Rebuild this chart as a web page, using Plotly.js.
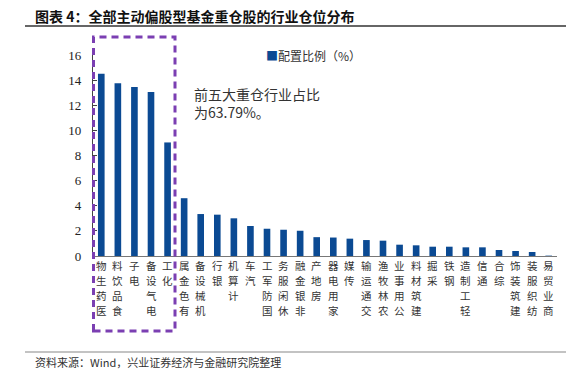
<!DOCTYPE html>
<html>
<head>
<meta charset="utf-8">
<script src="https://cdn.plot.ly/plotly-3.0.1.min.js"></script>
<style>html,body{margin:0;padding:0;background:#fff;}#chart{width:587px;height:373px;}</style>
</head>
<body>
<div id="chart"></div>
<script>
const categories = ['医药生物','食品饮料','电子','电气设备','化工','有色金属','机械设备','银行','计算机','汽车','国防军工','休闲服务','非银金融','房地产','家用电器','传媒','交通运输','农林牧渔','公用事业','建筑材料','采掘','钢铁','轻工制造','通信','综合','建筑装饰','纺织服装','商业贸易'];
const values = [14.50,13.75,13.45,13.05,9.04,4.60,3.34,3.29,3.00,2.39,2.17,2.09,2.01,1.50,1.47,1.38,1.27,1.22,0.90,0.85,0.74,0.74,0.69,0.69,0.48,0.40,0.32,0.03];
const seriesName = '配置比例（%）';
const yTicks = [0,2,4,6,8,10,12,14,16];
const titleText = '图表 4：全部主动偏股型基金重仓股的行业仓位分布';
const noteText = '前五大重仓行业占比<br>为63.79%。';
const sourceText = '资料来源：Wind，兴业证券经济与金融研究院整理';

const cjk = '"Noto Sans CJK SC", "Noto Sans", sans-serif';
const serif = '"Liberation Serif", "DejaVu Serif", serif';
const barColor = '#0b4a93';
const purple = '#7b3fb2';

// plot area in pixels: l=93, width=464, top=55, height=201
const L = 93, W = 464, T = 55, H = 201;
const px = x => (x - L) / W;
const py = y => (T + H - y) / H;

const trace = {
  type: 'bar',
  x: categories,
  y: values,
  name: seriesName,
  marker: {color: barColor},
  showlegend: false,
  hoverinfo: 'x+y'
};

// vertical category labels: characters stacked, last character on top
const labelAnnotations = [];
categories.forEach(c => {
  const chars = c.split('').reverse();
  chars.forEach((ch, i) => {
    labelAnnotations.push({
      xref: 'x', yref: 'paper', x: c, y: py(265 + i * 15),
      xanchor: 'center', yanchor: 'middle', showarrow: false,
      text: ch, font: {family: cjk, size: 10.5, color: '#333'}
    });
  });
});

const layout = {
  width: 587, height: 373,
  margin: {l: L, r: 587 - L - W, t: T, b: 373 - T - H, pad: 0},
  paper_bgcolor: '#ffffff',
  plot_bgcolor: '#ffffff',
  bargap: 0.6,
  xaxis: {
    type: 'category',
    showticklabels: false,
    showline: true, linecolor: '#777', linewidth: 1.2,
    ticks: '', showgrid: false, zeroline: false,
    range: [-0.5, categories.length - 0.5],
    fixedrange: true
  },
  yaxis: {
    range: [0, 16],
    tickvals: yTicks,
    ticktext: yTicks.map(String),
    tickfont: {family: serif, size: 13, color: '#222'},
    showline: true, linecolor: '#444', linewidth: 1.2,
    ticks: 'inside', ticklen: 4, tickcolor: '#444', tickwidth: 1,
    ticklabelstandoff: 8,
    showgrid: false, zeroline: false,
    fixedrange: true
  },
  shapes: [
    {type: 'rect', xref: 'paper', yref: 'paper', x0: px(93.5), x1: px(175), y0: py(331), y1: py(37),
     line: {color: purple, width: 3, dash: '7px,5px'}, fillcolor: 'rgba(0,0,0,0)'},
    {type: 'line', xref: 'paper', yref: 'paper', x0: px(25), x1: px(566), y0: py(26), y1: py(26),
     line: {color: '#333', width: 1.5}},
    {type: 'line', xref: 'paper', yref: 'paper', x0: px(25), x1: px(566), y0: py(352), y1: py(352),
     line: {color: '#888', width: 1.2}}
  ],
  annotations: [
    {xref: 'paper', yref: 'paper', x: px(33), y: py(16), xanchor: 'left', yanchor: 'middle', showarrow: false,
     text: '<b>' + titleText + '</b>', font: {family: cjk, size: 14, color: '#111'}},
    {xref: 'paper', yref: 'paper', x: px(264), y: py(56), xanchor: 'left', yanchor: 'middle', showarrow: false,
     text: '<span style="color:' + barColor + '">■</span>' + seriesName, font: {family: cjk, size: 12, color: '#333'}},
    {xref: 'paper', yref: 'paper', x: px(192), y: py(82), xanchor: 'left', yanchor: 'top', showarrow: false, align: 'left',
     text: noteText, font: {family: cjk, size: 14, color: '#333'}},
    {xref: 'paper', yref: 'paper', x: px(33), y: py(362), xanchor: 'left', yanchor: 'middle', showarrow: false,
     text: sourceText, font: {family: cjk, size: 11, color: '#333'}}
  ].concat(labelAnnotations)
};

Plotly.newPlot('chart', [trace], layout, {displayModeBar: false, staticPlot: true});
</script>
</body>
</html>
